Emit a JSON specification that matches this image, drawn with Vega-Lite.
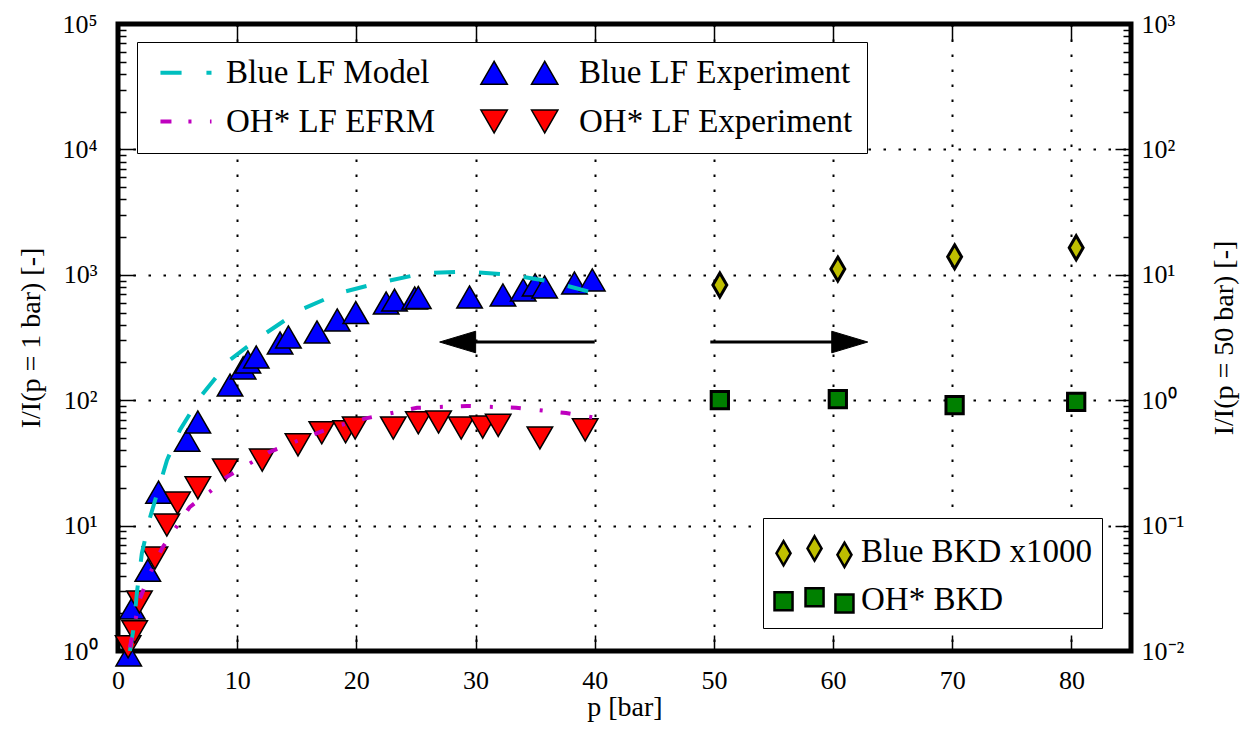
{
  "$schema": "https://vega.github.io/schema/vega-lite/v6.json",
  "width": 1013,
  "height": 627,
  "autosize": {"type": "none"},
  "padding": {"left": 118, "top": 24, "right": 127, "bottom": 91},
  "background": "white",
  "config": {
    "font": "Liberation Serif",
    "view": {"stroke": "black", "strokeWidth": 5},
    "axis": {
      "labelFont": "Liberation Serif",
      "titleFont": "Liberation Serif",
      "labelFontSize": 26,
      "titleFontSize": 28,
      "labelColor": "black",
      "titleColor": "black",
      "titleFontWeight": "normal",
      "domain": false,
      "tickColor": "black",
      "tickWidth": 1.5,
      "gridColor": "black",
      "gridDash": [2.5, 12.5],
      "gridWidth": 2,
      "gridOpacity": 1,
      "labelFlush": false,
      "labelOverlap": false
    }
  },
  "datasets": {
    "exp": [
      {"p": 0.9, "v": 0.93, "series": "Blue LF Experiment"},
      {"p": 1.2, "v": 2.2, "series": "Blue LF Experiment"},
      {"p": 2.5, "v": 4.4, "series": "Blue LF Experiment"},
      {"p": 3.4, "v": 18.5, "series": "Blue LF Experiment"},
      {"p": 5.8, "v": 48, "series": "Blue LF Experiment"},
      {"p": 6.7, "v": 67, "series": "Blue LF Experiment"},
      {"p": 9.4, "v": 132, "series": "Blue LF Experiment"},
      {"p": 10.5, "v": 181, "series": "Blue LF Experiment"},
      {"p": 10.9, "v": 202, "series": "Blue LF Experiment"},
      {"p": 11.6, "v": 221, "series": "Blue LF Experiment"},
      {"p": 13.6, "v": 286, "series": "Blue LF Experiment"},
      {"p": 14.3, "v": 319, "series": "Blue LF Experiment"},
      {"p": 16.7, "v": 350, "series": "Blue LF Experiment"},
      {"p": 18.4, "v": 436, "series": "Blue LF Experiment"},
      {"p": 19.95, "v": 500, "series": "Blue LF Experiment"},
      {"p": 22.5, "v": 596, "series": "Blue LF Experiment"},
      {"p": 23.2, "v": 629, "series": "Blue LF Experiment"},
      {"p": 24.9, "v": 653, "series": "Blue LF Experiment"},
      {"p": 25.2, "v": 660, "series": "Blue LF Experiment"},
      {"p": 29.5, "v": 665, "series": "Blue LF Experiment"},
      {"p": 32.3, "v": 690, "series": "Blue LF Experiment"},
      {"p": 34.0, "v": 757, "series": "Blue LF Experiment"},
      {"p": 35.0, "v": 829, "series": "Blue LF Experiment"},
      {"p": 35.8, "v": 800, "series": "Blue LF Experiment"},
      {"p": 38.3, "v": 860, "series": "Blue LF Experiment"},
      {"p": 39.8, "v": 910, "series": "Blue LF Experiment"},
      {"p": 0.85, "v": 1.08, "series": "OH* LF Experiment"},
      {"p": 1.4, "v": 1.42, "series": "OH* LF Experiment"},
      {"p": 1.8, "v": 2.46, "series": "OH* LF Experiment"},
      {"p": 3.1, "v": 5.5, "series": "OH* LF Experiment"},
      {"p": 4.1, "v": 10.1, "series": "OH* LF Experiment"},
      {"p": 5.0, "v": 15.1, "series": "OH* LF Experiment"},
      {"p": 6.7, "v": 20, "series": "OH* LF Experiment"},
      {"p": 9.0, "v": 27.8, "series": "OH* LF Experiment"},
      {"p": 12.1, "v": 33.3, "series": "OH* LF Experiment"},
      {"p": 15.1, "v": 44, "series": "OH* LF Experiment"},
      {"p": 17.1, "v": 55, "series": "OH* LF Experiment"},
      {"p": 19.1, "v": 56, "series": "OH* LF Experiment"},
      {"p": 19.9, "v": 60, "series": "OH* LF Experiment"},
      {"p": 23.1, "v": 60, "series": "OH* LF Experiment"},
      {"p": 25.2, "v": 66, "series": "OH* LF Experiment"},
      {"p": 26.9, "v": 67, "series": "OH* LF Experiment"},
      {"p": 28.8, "v": 60, "series": "OH* LF Experiment"},
      {"p": 30.6, "v": 61, "series": "OH* LF Experiment"},
      {"p": 31.9, "v": 63, "series": "OH* LF Experiment"},
      {"p": 35.4, "v": 50, "series": "OH* LF Experiment"},
      {"p": 39.2, "v": 58, "series": "OH* LF Experiment"}
    ],
    "blueModel": [
      {"p": 1.0, "v": 1.0},
      {"p": 1.3, "v": 1.5},
      {"p": 1.6, "v": 3.0},
      {"p": 2.0, "v": 6.0},
      {"p": 2.7, "v": 11.7},
      {"p": 4.1, "v": 33},
      {"p": 5.2, "v": 58},
      {"p": 6.9, "v": 106},
      {"p": 9.4, "v": 210},
      {"p": 11.9, "v": 318},
      {"p": 15.3, "v": 525},
      {"p": 18.6, "v": 718},
      {"p": 22.2, "v": 877},
      {"p": 25.7, "v": 1030},
      {"p": 29.3, "v": 1060},
      {"p": 32.9, "v": 1000},
      {"p": 36.5, "v": 877},
      {"p": 39.6, "v": 730}
    ],
    "ohModel": [
      {"p": 1.0, "v": 1.07},
      {"p": 1.8, "v": 2.55},
      {"p": 2.7, "v": 4.2},
      {"p": 3.7, "v": 6.6},
      {"p": 6.0, "v": 14},
      {"p": 7.7, "v": 18.6},
      {"p": 9.1, "v": 24.4},
      {"p": 12.7, "v": 38.6},
      {"p": 14.7, "v": 46},
      {"p": 18.0, "v": 61},
      {"p": 20.9, "v": 72},
      {"p": 25.1, "v": 87},
      {"p": 29.3, "v": 90},
      {"p": 33.4, "v": 87},
      {"p": 37.6, "v": 79},
      {"p": 39.8, "v": 73}
    ],
    "arrows": [
      {"p": 40, "p2": 29.5, "v": 291},
      {"p": 49.7, "p2": 60.5, "v": 291}
    ],
    "headL": [{"p": 28.5, "v": 291}],
    "headR": [{"p": 61.4, "v": 291}],
    "bkd": [
      {"p": 50.5, "v": 8.3, "bkd": "Blue BKD x1000"},
      {"p": 60.4, "v": 11.1, "bkd": "Blue BKD x1000"},
      {"p": 70.2, "v": 13.9, "bkd": "Blue BKD x1000"},
      {"p": 80.4, "v": 16.4, "bkd": "Blue BKD x1000"},
      {"p": 50.5, "v": 1.0, "bkd": "OH* BKD"},
      {"p": 60.4, "v": 1.02, "bkd": "OH* BKD"},
      {"p": 70.2, "v": 0.915, "bkd": "OH* BKD"},
      {"p": 80.4, "v": 0.97, "bkd": "OH* BKD"}
    ]
  },
  "layer": [
    {
      "data": {"name": "exp"},
      "transform": [{"filter": "datum.series == 'Blue LF Experiment'"}],
      "mark": {"type": "point", "shape": "triangle-up", "filled": true, "fill": "#0000ff", "stroke": "black", "strokeWidth": 1.5, "size": 650, "opacity": 1},
      "encoding": {
        "x": {
          "field": "p", "type": "quantitative",
          "scale": {"domain": [0, 85], "nice": false, "zero": false},
          "axis": {"orient": "bottom", "values": [0, 10, 20, 30, 40, 50, 60, 70, 80], "format": "d", "tickSize": -16, "labelPadding": 32, "grid": true, "title": "p [bar]", "titlePadding": 0}
        },
        "y": {
          "field": "v", "type": "quantitative",
          "scale": {"type": "log", "domain": [1, 100000], "nice": false},
          "axis": {"orient": "left", "values": [1, 10, 100, 1000, 10000, 100000], "tickSize": -16, "labelPadding": 37, "grid": true,
            "labelExpr": "datum.value == 1 ? '10⁰' : datum.value == 10 ? '10¹' : datum.value == 100 ? '10²' : datum.value == 1000 ? '10³' : datum.value == 10000 ? '10⁴' : '10⁵'",
            "title": "I/I(p = 1 bar) [-]", "titlePadding": 16}
        }
      }
    },
    {
      "data": {"name": "exp"},
      "transform": [{"filter": "datum.series == 'OH* LF Experiment'"}],
      "mark": {"type": "point", "shape": "triangle-down", "filled": true, "fill": "#ff0000", "stroke": "black", "strokeWidth": 1.5, "size": 650, "opacity": 1},
      "encoding": {
        "x": {"field": "p", "type": "quantitative", "scale": {"domain": [0, 85], "nice": false, "zero": false}, "axis": null},
        "y": {"field": "v", "type": "quantitative", "scale": {"type": "log", "domain": [1, 100000], "nice": false}, "axis": null}
      }
    },
    {
      "data": {"name": "blueModel"},
      "mark": {"type": "line", "color": "#00bfbf", "strokeWidth": 4, "strokeDash": [21, 24]},
      "encoding": {
        "x": {"field": "p", "type": "quantitative", "scale": {"domain": [0, 85], "nice": false, "zero": false}, "axis": null},
        "y": {
          "field": "v", "type": "quantitative",
          "scale": {"type": "log", "domain": [1, 100000], "nice": false},
          "axis": {"orient": "left", "values": [2,3,4,5,6,7,8,9,20,30,40,50,60,70,80,90,200,300,400,500,600,700,800,900,2000,3000,4000,5000,6000,7000,8000,9000,20000,30000,40000,50000,60000,70000,80000,90000], "tickSize": -8, "labels": false, "grid": false, "title": null}
        }
      }
    },
    {
      "data": {"name": "ohModel"},
      "mark": {"type": "line", "color": "#bf00bf", "strokeWidth": 4, "strokeDash": [10, 19, 3, 18]},
      "encoding": {
        "x": {"field": "p", "type": "quantitative", "scale": {"domain": [0, 85], "nice": false, "zero": false},
          "axis": {"orient": "top", "values": [0, 10, 20, 30, 40, 50, 60, 70, 80], "tickSize": -16, "labels": false, "grid": false, "title": null}},
        "y": {"field": "v", "type": "quantitative", "scale": {"type": "log", "domain": [1, 100000], "nice": false}, "axis": null}
      }
    },
    {
      "data": {"name": "arrows"},
      "mark": {"type": "rule", "color": "black", "strokeWidth": 3},
      "encoding": {
        "x": {"field": "p", "type": "quantitative", "scale": {"domain": [0, 85], "nice": false, "zero": false}, "axis": null},
        "x2": {"field": "p2"},
        "y": {
          "field": "v", "type": "quantitative",
          "scale": {"type": "log", "domain": [1, 100000], "nice": false},
          "axis": {"orient": "right", "values": [2,3,4,5,6,7,8,9,20,30,40,50,60,70,80,90,200,300,400,500,600,700,800,900,2000,3000,4000,5000,6000,7000,8000,9000,20000,30000,40000,50000,60000,70000,80000,90000], "tickSize": -8, "labels": false, "grid": false, "title": null}
        }
      }
    },
    {
      "data": {"name": "headL"},
      "mark": {"type": "point", "shape": "M-1,0L1,-0.6L1,0.6Z", "filled": true, "fill": "black", "stroke": "black", "strokeWidth": 1, "size": 1296, "opacity": 1},
      "encoding": {
        "x": {"field": "p", "type": "quantitative", "scale": {"domain": [0, 85], "nice": false, "zero": false}, "axis": null},
        "y": {"field": "v", "type": "quantitative", "scale": {"type": "log", "domain": [1, 100000], "nice": false}, "axis": null}
      }
    },
    {
      "data": {"name": "headR"},
      "mark": {"type": "point", "shape": "M1,0L-1,-0.6L-1,0.6Z", "filled": true, "fill": "black", "stroke": "black", "strokeWidth": 1, "size": 1296, "opacity": 1},
      "encoding": {
        "x": {"field": "p", "type": "quantitative", "scale": {"domain": [0, 85], "nice": false, "zero": false}, "axis": null},
        "y": {"field": "v", "type": "quantitative", "scale": {"type": "log", "domain": [1, 100000], "nice": false}, "axis": null}
      }
    },
    {
      "data": {"name": "bkd"},
      "transform": [{"filter": "datum.bkd == 'Blue BKD x1000'"}],
      "mark": {"type": "point", "shape": "M0,-1L0.58,0L0,1L-0.58,0Z", "filled": true, "fill": "#bfbf00", "stroke": "black", "strokeWidth": 3, "size": 576, "opacity": 1},
      "encoding": {
        "x": {"field": "p", "type": "quantitative", "scale": {"domain": [0, 85], "nice": false, "zero": false}, "axis": null},
        "y": {
          "field": "v", "type": "quantitative",
          "scale": {"type": "log", "domain": [0.01, 1000], "nice": false},
          "axis": {"orient": "right", "values": [0.01, 0.1, 1, 10, 100, 1000], "tickSize": -16, "labelPadding": 26, "grid": false,
            "labelExpr": "datum.value == 0.01 ? '10⁻²' : datum.value == 0.1 ? '10⁻¹' : datum.value == 1 ? '10⁰' : datum.value == 10 ? '10¹' : datum.value == 100 ? '10²' : '10³'",
            "title": "I/I(p = 50 bar) [-]", "titleAngle": 270, "titlePadding": 55}
        }
      }
    },
    {
      "data": {"name": "bkd"},
      "transform": [{"filter": "datum.bkd == 'OH* BKD'"}],
      "mark": {"type": "point", "shape": "M-0.72,-0.72L0.72,-0.72L0.72,0.72L-0.72,0.72Z", "filled": true, "fill": "#008000", "stroke": "black", "strokeWidth": 3, "size": 576, "opacity": 1},
      "encoding": {
        "x": {"field": "p", "type": "quantitative", "scale": {"domain": [0, 85], "nice": false, "zero": false}, "axis": null},
        "y": {"field": "v", "type": "quantitative", "scale": {"type": "log", "domain": [0.01, 1000], "nice": false}, "axis": null}
      }
    },
    {
      "data": {"name": "exp"},
      "mark": {"type": "point", "filled": true, "opacity": 0, "size": 10},
      "encoding": {
        "x": {"field": "p", "type": "quantitative", "scale": {"domain": [0, 85], "nice": false, "zero": false}, "axis": null},
        "y": {"field": "v", "type": "quantitative", "scale": {"type": "log", "domain": [1, 100000], "nice": false}, "axis": null},
        "fill": {
          "field": "series", "type": "nominal",
          "scale": {"domain": ["Blue LF Model", "Blue LF Experiment", "OH* LF EFRM", "OH* LF Experiment"], "range": ["transparent", "#0000ff", "transparent", "#ff0000"]},
          "legend": {
            "orient": "none", "legendX": 19, "legendY": 18, "columns": 2, "direction": "horizontal", "title": null,
            "strokeColor": "black", "fillColor": "white", "padding": 14,
            "labelFont": "Liberation Serif", "labelFontSize": 33, "labelColor": "black", "labelLimit": 500,
            "symbolSize": 1936, "labelOffset": 42, "rowPadding": 15, "columnPadding": 41, "symbolOpacity": 1,
            "symbolType": {"expr": "datum.value == 'Blue LF Model' ? 'M-0.32,0L0.64,0M1.77,0L2,0' : datum.value == 'OH* LF EFRM' ? 'M-0.32,0L0.18,0M0.95,0L1.09,0M1.93,0L2,0' : datum.value == 'Blue LF Experiment' ? 'M-1.2,-0.52L-1.8,0.52L-0.6,0.52ZM1.1,-0.52L0.5,0.52L1.7,0.52Z' : 'M-1.2,0.52L-1.8,-0.52L-0.6,-0.52ZM1.1,0.52L0.5,-0.52L1.7,-0.52Z'"},
            "symbolStrokeColor": {"expr": "datum.value == 'Blue LF Model' ? '#00bfbf' : datum.value == 'OH* LF EFRM' ? '#bf00bf' : 'black'"},
            "symbolStrokeWidth": {"expr": "datum.value == 'Blue LF Model' || datum.value == 'OH* LF EFRM' ? 4 : 1.5"}
          }
        }
      }
    },
    {
      "data": {"name": "bkd"},
      "mark": {"type": "point", "filled": true, "opacity": 0, "size": 10},
      "encoding": {
        "x": {"field": "p", "type": "quantitative", "scale": {"domain": [0, 85], "nice": false, "zero": false}, "axis": null},
        "y": {"field": "v", "type": "quantitative", "scale": {"type": "log", "domain": [0.01, 1000], "nice": false}, "axis": null},
        "fill": {
          "field": "bkd", "type": "nominal",
          "scale": {"domain": ["Blue BKD x1000", "OH* BKD"], "range": ["#bfbf00", "#008000"]},
          "legend": {
            "orient": "none", "legendX": 645, "legendY": 494, "title": null, "direction": "vertical",
            "strokeColor": "black", "fillColor": "white", "padding": 10,
            "labelFont": "Liberation Serif", "labelFontSize": 33, "labelColor": "black", "labelLimit": 500,
            "symbolSize": 1936, "labelOffset": 41, "rowPadding": 4, "symbolOpacity": 1,
            "symbolType": {"expr": "datum.value == 'Blue BKD x1000' ? 'M-0.59,-0.47L-0.27,0.08L-0.59,0.63L-0.91,0.08ZM0.82,-0.69L1.14,-0.14L0.82,0.41L0.5,-0.14ZM2.18,-0.4L2.5,0.15L2.18,0.7L1.86,0.15Z' : 'M-1,-0.33L-0.18,-0.33L-0.18,0.49L-1,0.49ZM0.41,-0.51L1.23,-0.51L1.23,0.31L0.41,0.31ZM1.77,-0.23L2.59,-0.23L2.59,0.59L1.77,0.59Z'"},
            "symbolStrokeColor": "black",
            "symbolStrokeWidth": 2.5
          }
        }
      }
    }
  ]
  ,
  "resolve": {
    "scale": {"x": "independent", "y": "independent", "fill": "independent"}
  }
}
